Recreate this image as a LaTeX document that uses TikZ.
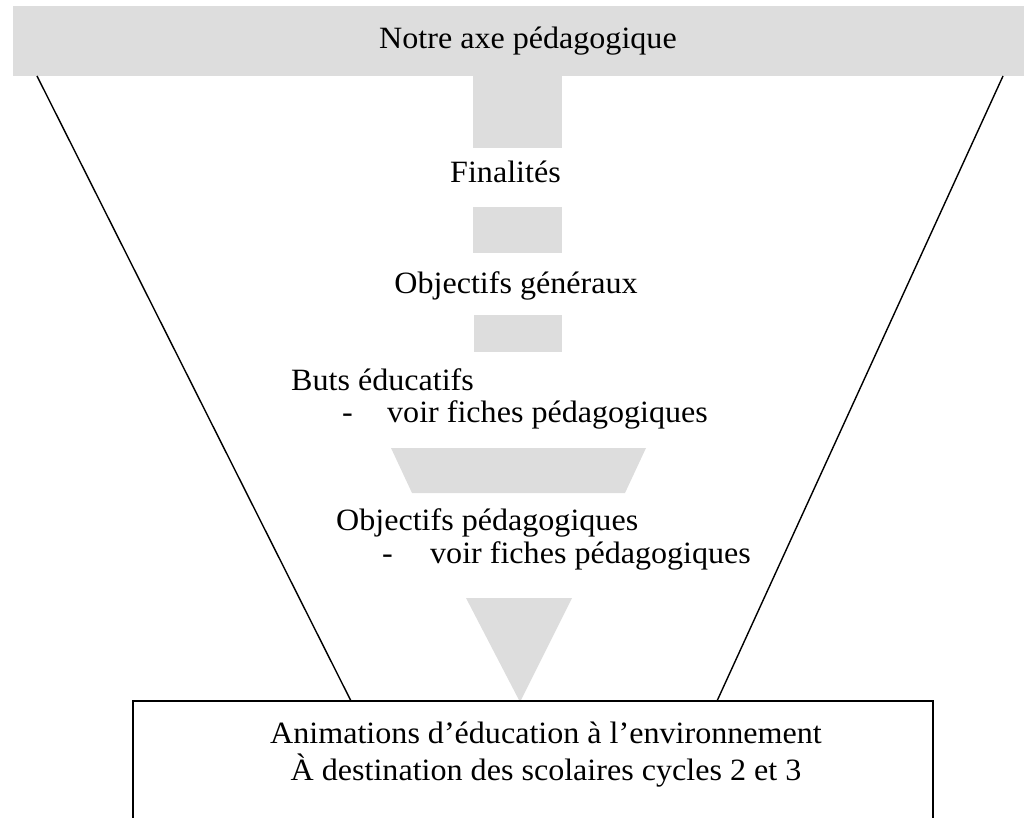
\documentclass[tikz,border=0pt]{standalone}
\usepackage{fontspec}
\setmainfont{Liberation Serif}[FakeStretch=1.035]
\definecolor{fgray}{RGB}{221,221,221}
\begin{document}
\begin{tikzpicture}[x=1pt,y=-1pt,
  txt/.style={inner sep=0pt,font=\fontsize{31}{35}\selectfont},
  edge/.style={line width=1.4pt,black}]
\useasboundingbox (0,0) rectangle (1024,818);
\clip (0,0) rectangle (1024,818);
% top band
\fill[fgray] (13,6) rectangle (1024,76);
\node[txt,anchor=base] (axe) at (528,49) {Notre axe pédagogique};
% connector blocks
\fill[fgray] (473,76) rectangle (562,148);
\node[txt,anchor=base west] (fin) at (450,183) {Finalités};
\fill[fgray] (473,207) rectangle (562,253);
\node[txt,anchor=base] (objg) at (516,293) {Objectifs généraux};
\fill[fgray] (474,315) rectangle (562,352);
\node[txt,anchor=base west] (buts) at (291,390) {Buts éducatifs};
\node[txt,anchor=base west] (butsd) at (342,422) {-};
\node[txt,anchor=base west] (butsv) at (387,422) {voir fiches pédagogiques};
\fill[fgray] (391,448) -- (646,448) -- (625,493) -- (412,493) -- cycle;
\node[txt,anchor=base west] (objp) at (336,530) {Objectifs pédagogiques};
\node[txt,anchor=base west] (objpd) at (382,563) {-};
\node[txt,anchor=base west] (objpv) at (430,563) {voir fiches pédagogiques};
\fill[fgray] (466,598) -- (572,598) -- (520,702) -- cycle;
% funnel edges and bottom box
\coordinate (tl) at (37,76);
\coordinate (tr) at (1003,76);
\coordinate (bl) at (351,701);
\coordinate (br) at (717,701);
\draw[edge] (tl) -- (bl);
\draw[edge] (tr) -- (br);
\draw[edge] (133,840) -- (133,701) -- (933,701) -- (933,840);
\node[txt,anchor=base] (anim1) at (546,743) {Animations d’éducation à l’environnement};
\node[txt,anchor=base] (anim2) at (546,780) {À destination des scolaires cycles 2 et 3};
\end{tikzpicture}
\end{document}
